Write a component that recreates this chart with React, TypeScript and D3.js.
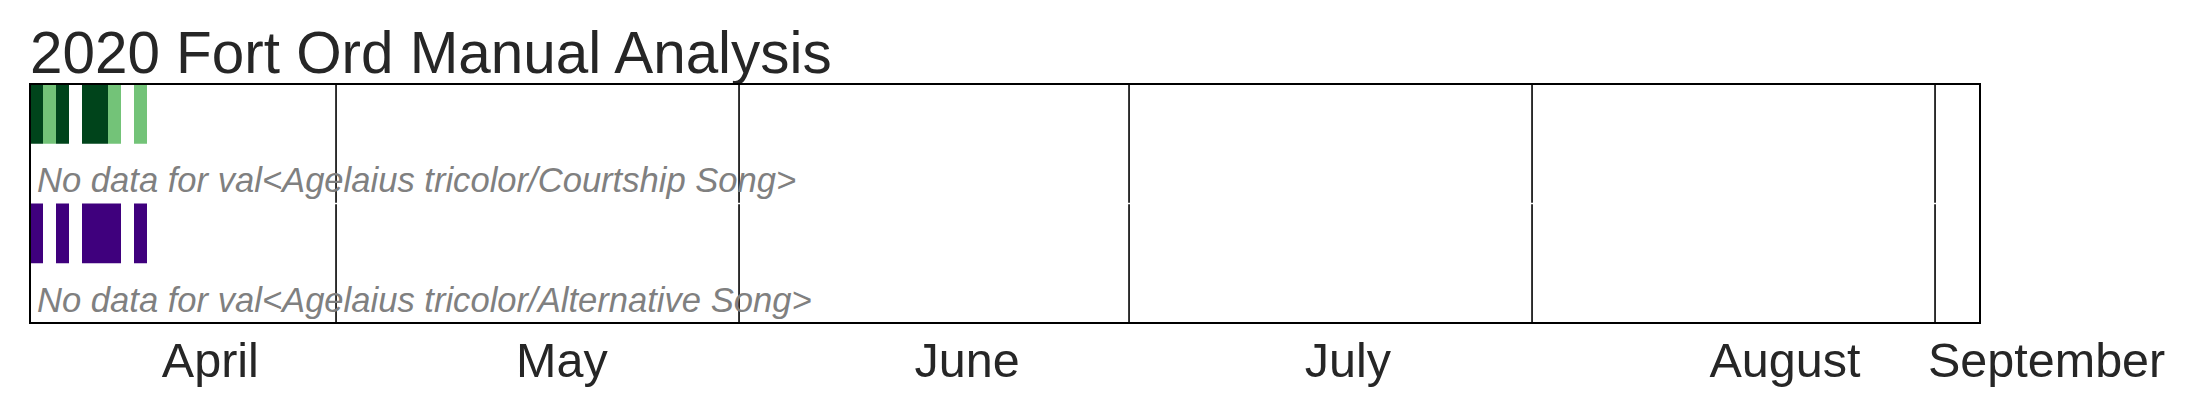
import React, { useEffect } from "react";
import * as d3 from "d3";

// chart data
const title = "2020 Fort Ord Manual Analysis";
const species = "Agelaius tricolor";
const rowNames = ["Courtship Song", "Alternative Song"];

// one bar per recording day (start time of the deployment)
const courtshipDays = [
  "2020-04-07T11:00", "2020-04-08T11:00", "2020-04-09T11:00", "2020-04-11T11:00",
  "2020-04-12T11:00", "2020-04-13T11:00", "2020-04-15T11:00",
];
const courtshipCounts = [4, 2, 4, 4, 4, 2, 2];

const alternativeDays = [
  "2020-04-07T11:00", "2020-04-09T11:00", "2020-04-11T11:00",
  "2020-04-12T11:00", "2020-04-13T11:00", "2020-04-15T11:00",
];
const alternativeCounts = [1, 1, 1, 1, 1, 1];

const monthStarts = ["2020-05-01", "2020-06-01", "2020-07-01", "2020-08-01", "2020-09-01"];
const monthLabels = ["April", "May", "June", "July", "August", "September"];
const monthLabelDates = [
  "2020-04-21T08:00", "2020-05-18T09:00", "2020-06-18T13:00",
  "2020-07-17T20:00", "2020-08-20T11:00", "2020-09-09T14:00",
];

const domainStart = "2020-04-07T11:00";
const domainEnd = "2020-09-04T11:00";

var width = 2199;
var height = 418;
var left = 30, right = 1980, top = 84, bottom = 323;
var font = "'Liberation Sans', Arial, Helvetica, sans-serif";

const parse = (s: string) => new Date(s);

export default function App() {
  useEffect(() => {
    document.body.style.margin = "0";
  }, []);

  const x = d3.scaleTime()
    .domain([parse(domainStart), parse(domainEnd)])
    .range([left, right]);

  const rows = d3.scaleBand<number>()
    .domain([0, 1])
    .range([top, bottom]);

  const green = d3.scaleSequential(d3.interpolateGreens).domain([0, 4]);
  const purple = d3.scaleSequential(d3.interpolatePurples).domain([0, 1]);

  const series = [
    { days: courtshipDays, counts: courtshipCounts, color: green },
    { days: alternativeDays, counts: alternativeCounts, color: purple },
  ];

  const rowH = rows.bandwidth();

  return (
    <svg width={width} height={height} style={{ display: "block", background: "#fff" }}>
      <text x={30} y={72.7} fontFamily={font} fontSize={58.4} fill="#262626">{title}</text>

      {series.map((s, r) => {
        const y0 = rows(r) as number;
        return (
          <g key={r}>
            {s.days.map((d, i) => {
              const t0 = parse(d);
              const t1 = d3.timeDay.offset(t0, 1);
              return (
                <rect key={i}
                  x={x(t0)} y={y0}
                  width={x(t1) - x(t0)} height={rowH / 2}
                  fill={s.color(s.counts[i])} />
              );
            })}
            {monthStarts.map((m, i) => (
              <line key={"m" + i}
                x1={x(parse(m))} x2={x(parse(m))}
                y1={y0 + (r === 0 ? 0 : 0.7)} y2={y0 + rowH - (r === 0 ? 0.7 : 0)}
                stroke="#000" strokeWidth={1.6} />
            ))}
            <text x={37} y={y0 + 108.3} fontFamily={font} fontStyle="italic"
              fontSize={34.6} fill="#808080">
              {`No data for val<${species}/${rowNames[r]}>`}
            </text>
          </g>
        );
      })}

      <rect x={left} y={top} width={right - left} height={bottom - top}
        fill="none" stroke="#000" strokeWidth={2} />

      {monthLabels.map((m, i) => (
        <text key={m} x={x(parse(monthLabelDates[i]))} y={376.7} textAnchor="middle"
          fontFamily={font} fontSize={48.5} fill="#262626">{m}</text>
      ))}
    </svg>
  );
}
